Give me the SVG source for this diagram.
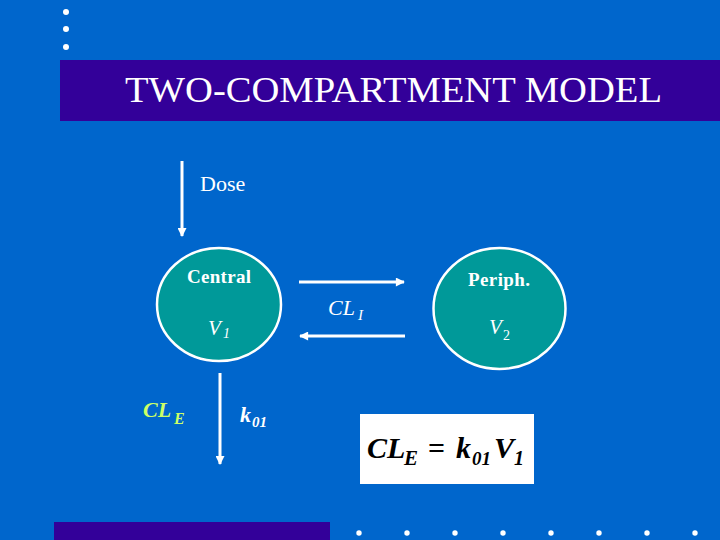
<svg xmlns="http://www.w3.org/2000/svg" width="720" height="540" viewBox="0 0 720 540">
<style>
.t{font-family:"Liberation Serif","Times New Roman",serif;fill:#fff}
.b{font-weight:bold}
.i{font-style:italic}
.node{fill:#009999;stroke:#fff;stroke-width:2.5}
.ln{stroke:#fff;stroke-width:3;fill:none}
</style>
<defs>
<marker id="ah" viewBox="0 0 10 10" refX="9" refY="5" markerWidth="3.3" markerHeight="3" orient="auto" markerUnits="strokeWidth">
<path d="M0,0 L10,5 L0,10 z" fill="#fff"/>
</marker>
</defs>
<rect width="720" height="540" fill="#0066CC"/>
<g id="decor" fill="#fff">
<circle cx="66" cy="12" r="3"/><circle cx="66" cy="29" r="3"/><circle cx="66" cy="47" r="3"/>
<rect x="54" y="522" width="276" height="18" fill="#330099"/>
<circle cx="359" cy="533" r="2.7"/><circle cx="407" cy="533" r="2.7"/><circle cx="455" cy="533" r="2.7"/><circle cx="503" cy="533" r="2.7"/>
<circle cx="551" cy="533" r="2.7"/><circle cx="599" cy="533" r="2.7"/><circle cx="647" cy="533" r="2.7"/><circle cx="695" cy="533" r="2.7"/>
</g>
<g id="title">
<rect x="60" y="60" width="660" height="61" fill="#330099"/>
<text class="t" x="125" y="102" font-size="36" textLength="537" lengthAdjust="spacingAndGlyphs">TWO-COMPARTMENT MODEL</text>
</g>
<g id="connectors">
<line class="ln" x1="182" y1="161" x2="182" y2="236" marker-end="url(#ah)"/>
<line class="ln" x1="299" y1="282" x2="404" y2="282" marker-end="url(#ah)"/>
<line class="ln" x1="405" y1="336" x2="300" y2="336" marker-end="url(#ah)"/>
<line class="ln" x1="220" y1="373" x2="220" y2="464" marker-end="url(#ah)"/>
<text class="t" x="200" y="191" font-size="22">Dose</text>
<text class="t i" x="328" y="315" font-size="22">CL<tspan x="358" y="320" font-size="15">I</tspan></text>
<text class="t i b" x="143" y="417" font-size="22" style="fill:#CCFF66">CL<tspan x="174" y="424" font-size="16">E</tspan></text>
<text class="t i b" x="240" y="422" font-size="22">k<tspan x="252" y="427" font-size="15">01</tspan></text>
</g>
<g id="central">
<ellipse class="node" cx="219" cy="304.5" rx="62" ry="56.5"/>
<text class="t b" x="187" y="283" font-size="19" textLength="64">Central</text>
<text class="t i" x="208" y="335" font-size="21">V<tspan x="223" y="338" font-size="14">1</tspan></text>
</g>
<g id="periph">
<ellipse class="node" cx="499.5" cy="308.5" rx="66" ry="60.5"/>
<text class="t b" x="468" y="286" font-size="19" textLength="62">Periph.</text>
<text class="t i" x="489" y="334" font-size="21">V<tspan x="503" y="340" font-size="14" font-style="normal">2</tspan></text>
</g>
<g id="formula">
<rect x="360" y="414" width="174" height="70" fill="#fff"/>
<text class="i b" x="367" y="458" font-size="30" font-family="Liberation Serif, serif" fill="#000">CL<tspan x="404" y="465" font-size="21">E</tspan><tspan x="428" y="458" font-style="normal">=</tspan><tspan x="456" y="458">k</tspan><tspan x="472" y="465" font-size="19">01</tspan><tspan x="494" y="458">V</tspan><tspan x="514" y="465" font-size="20">1</tspan></text>
</g>
</svg>
